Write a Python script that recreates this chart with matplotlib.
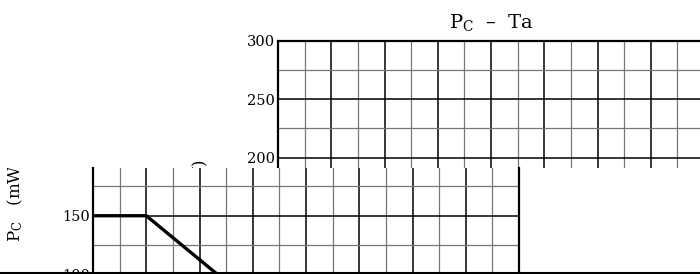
import numpy as np
import matplotlib
matplotlib.use('Agg')
import matplotlib.pyplot as plt
from matplotlib.lines import Line2D
from matplotlib.transforms import Bbox, TransformedBbox

# PC - Ta derating curve
ta = [0, 25, 125]
pc = [150, 150, 0]

x_major = np.arange(0, 201, 25)
x_minor = np.arange(12.5, 200, 25)
y_major = [0, 50, 100, 150, 200, 250, 300]
y_labels = ['0', '50', '100', '150', '200', '250', '300']
y_minor = [25, 75, 125, 175, 225, 275]

title = r'P$_\mathrm{C}$  –  Ta'
ylabel = r'P$_\mathrm{C}$   (mW)'

plt.rcParams['font.family'] = 'DejaVu Serif'
plt.rcParams['mathtext.fontset'] = 'dejavuserif'

W, H = 700, 274
CUT = 168  # row where the picture is torn
SHIFT = 185  # upper strip is shifted right by this many pixels

fig = plt.figure(figsize=(W / 100, H / 100), dpi=100)


def px(l, t, r, b):
    return [l / W, 1 - b / H, (r - l) / W, (b - t) / H]


def draw(ax, ylo, yhi):
    ax.set_xticks(x_major)
    ax.set_xticks(x_minor, minor=True)
    ax.set_yticks(y_major)
    ax.set_yticklabels(y_labels)
    ax.set_yticks(y_minor, minor=True)
    ax.set_xlim(0, 200)
    ax.set_ylim(ylo, yhi)
    ax.set_axisbelow(True)
    ax.grid(which='major', color='black', lw=1.1)
    ax.grid(which='minor', color='#777777', lw=0.9)
    ax.tick_params(which='both', length=0, labelbottom=False, labelsize=10.5, pad=2)
    ax.plot(ta, pc, color='black', lw=2.4, solid_capstyle='butt', zorder=3)
    for s in ax.spines.values():
        s.set_linewidth(1.6)
        s.set_color('black')


# upper strip (shifted right)
ax_up = fig.add_axes(px(93 + SHIFT, 40.7, 519 + SHIFT, CUT))
draw(ax_up, 191.2, 300)
ax_up.spines['bottom'].set_visible(False)
ax_up.set_title(title, fontsize=14, pad=9)

# lower strip
ax_lo = fig.add_axes(px(93, CUT, 519, 391.2))
draw(ax_lo, 0, 190.8)
ax_lo.spines['top'].set_visible(False)

# y label, split by the tear
below = TransformedBbox(Bbox.from_extents(0, 0, 1, 1 - CUT / H), fig.transFigure)
above = TransformedBbox(Bbox.from_extents(0, 1 - CUT / H, 1, 1), fig.transFigure)
for xpos, clip in [(15, below), (15 + SHIFT, above)]:
    t = fig.text(xpos / W, 1 - 242 / H, ylabel, rotation=90, ha='center', va='bottom', fontsize=12)
    t.set_clip_box(clip)
    t.set_clip_on(True)

# bottom border
fig.add_artist(Line2D([0, 1], [1.5 / H, 1.5 / H], transform=fig.transFigure, color='black', lw=1.5, zorder=10))

fig.savefig('out.png', dpi=100)
